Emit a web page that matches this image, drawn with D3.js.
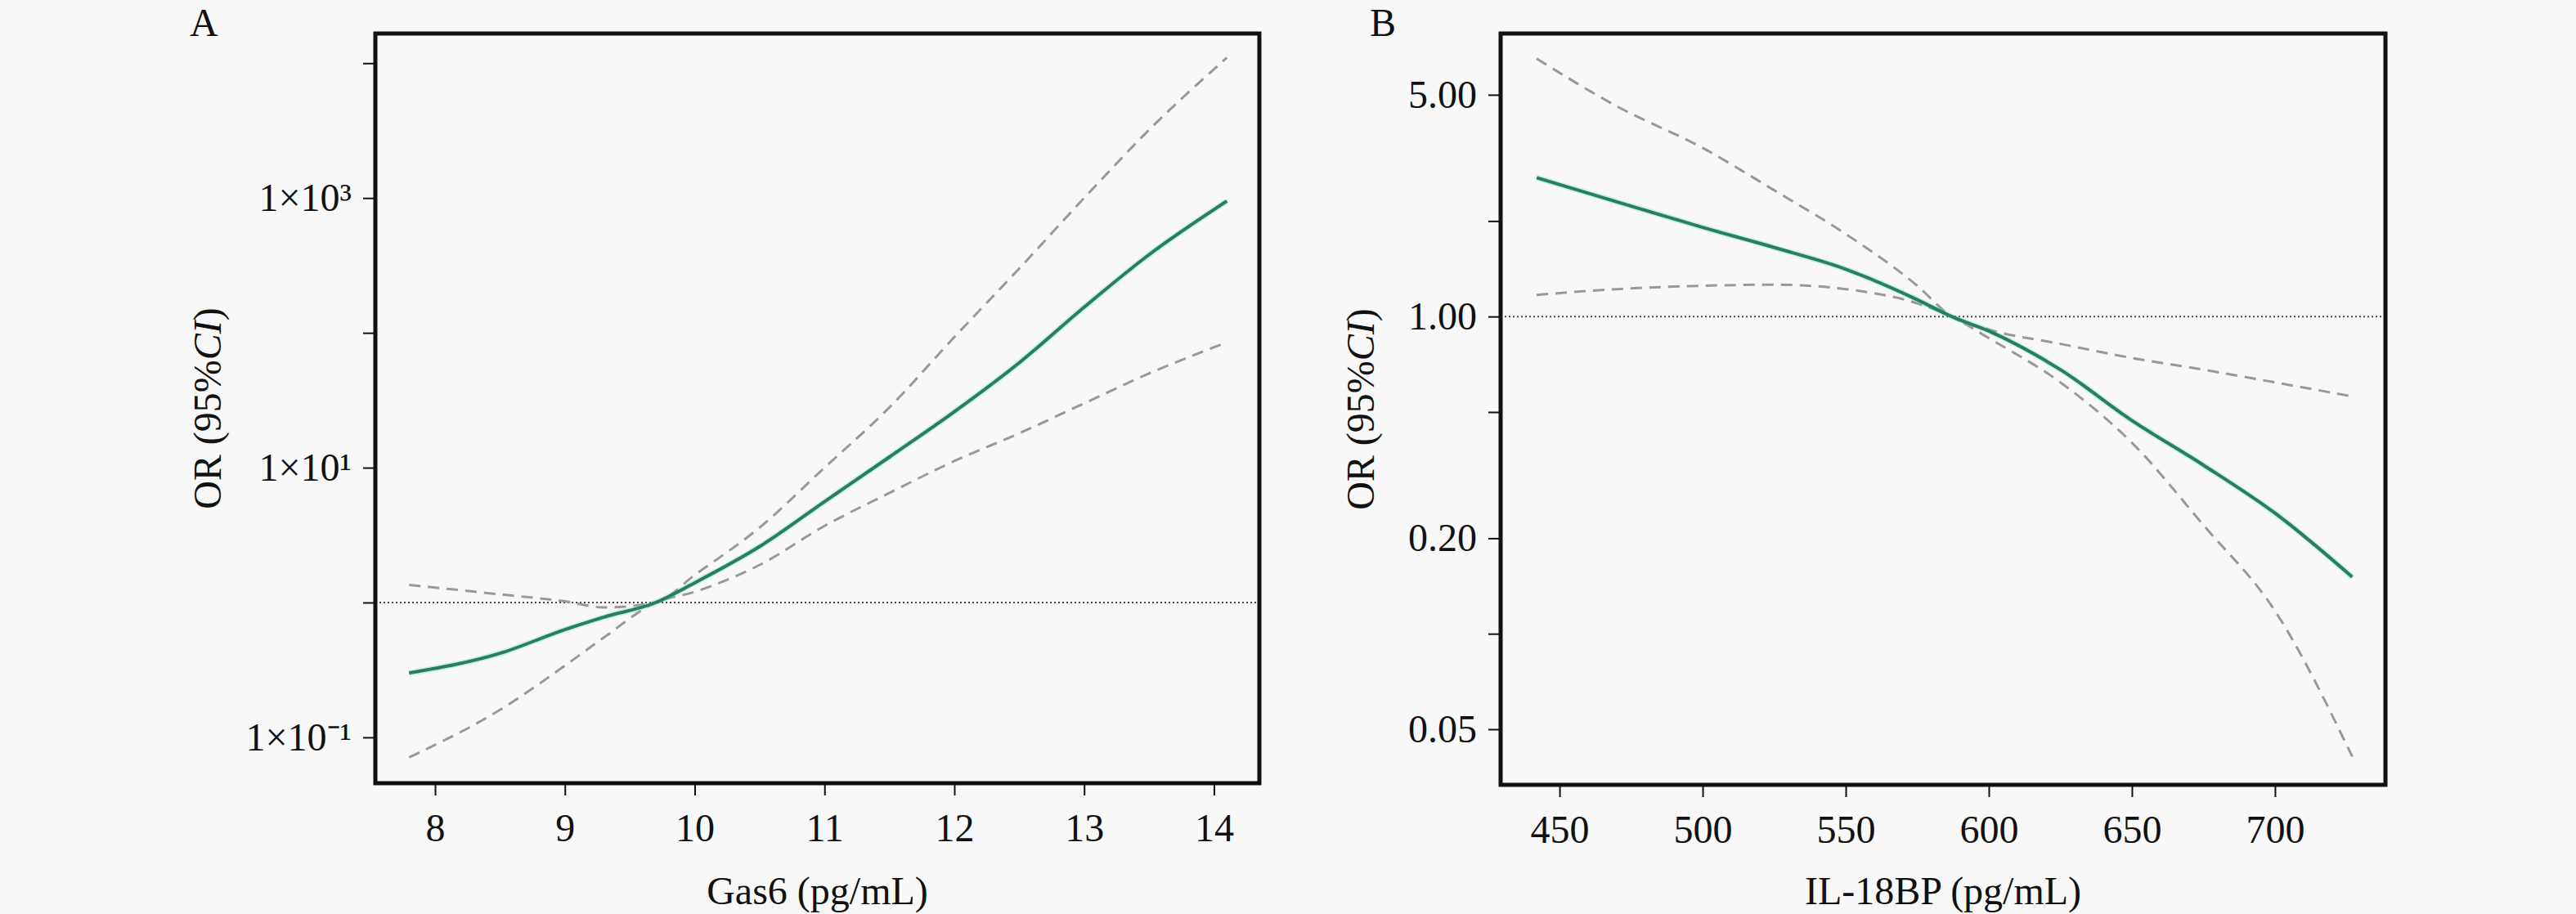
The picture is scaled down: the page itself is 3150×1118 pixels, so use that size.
<!DOCTYPE html>
<html><head><meta charset="utf-8">
<script src="https://cdn.jsdelivr.net/npm/d3@7"></script>
<style>body{margin:0;background:#f8f8f8;} text{font-family:"Liberation Serif","Times New Roman",serif;fill:#111;}</style>
</head><body><svg id="chart" width="3150" height="1118"></svg>
<script>
// panel A: Gas6
var gasX = [7.8, 8.5, 9, 9.3, 9.7, 10, 10.5, 11, 11.5, 12, 12.5, 13, 13.5, 14.1];
var gasOR = [0.30, 0.42, 0.63, 0.78, 1, 1.4, 2.6, 5.6, 12, 26, 60, 155, 380, 950];
var gasLo = [0.071, 0.16, 0.34, 0.55, 1, 1.2, 1.9, 3.7, 6.5, 11.2, 18, 30, 50, 85];
var gasHi = [1.35, 1.15, 1.02, 0.92, 1, 1.6, 3.6, 10, 28, 93, 300, 1000, 3200, 11000];
var gasTicks = [8, 9, 10, 11, 12, 13, 14];
var gasYTicks = [0.1, 10, 1000];
var gasYMinor = [1, 100, 10000];

// panel B: IL-18BP
var ilX = [442, 470, 500, 525, 550, 575, 587, 600, 625, 650, 675, 700, 727];
var ilOR = [2.74, 2.3, 1.91, 1.65, 1.41, 1.13, 1, 0.90, 0.68, 0.47, 0.34, 0.24, 0.151];
var ilLo = [1.17, 1.22, 1.25, 1.26, 1.22, 1.1, 1, 0.855, 0.62, 0.40, 0.22, 0.118, 0.041];
var ilHi = [6.5, 4.6, 3.4, 2.5, 1.82, 1.25, 1, 0.91, 0.82, 0.74, 0.68, 0.62, 0.56];
var ilTicks = [450, 500, 550, 600, 650, 700];
var ilYTicks = [0.05, 0.2, 1, 5];
var ilYMinor = [0.1, 0.5, 2];

var svg = d3.select("#chart");

function sup(n) {
  return String(n).split("").map(c => ({"-":"\u207B","0":"\u2070","1":"\u00B9","2":"\u00B2","3":"\u00B3"})[c]).join("");
}

function panel(o) {
  var x = d3.scaleLinear().domain(o.xd).range([o.left, o.right]);
  var y = d3.scaleLog().domain(o.yd).range([o.bottom, o.top]);
  var g = svg.append("g");

  g.append("g").attr("transform", `translate(0,${o.bottom})`)
    .call(d3.axisBottom(x).tickValues(o.xt).tickSize(15).tickPadding(22).tickFormat(d3.format("d")))
    .call(a => a.select(".domain").remove())
    .call(a => a.selectAll("line").attr("stroke", "#111").attr("stroke-width", 2))
    .call(a => a.selectAll("text").attr("font-size", 48).attr("font-family", "Liberation Serif"));

  var ya = g.append("g").attr("transform", `translate(${o.left},0)`)
    .call(d3.axisLeft(y).tickValues(o.yt.concat(o.ym)).tickSize(15).tickPadding(14).tickFormat(d => o.yt.includes(d) ? o.fmt(d) : ""))
    .call(a => a.select(".domain").remove())
    .call(a => a.selectAll("line").attr("stroke", "#111").attr("stroke-width", 2))
    .call(a => a.selectAll("text").attr("font-size", 48).attr("font-family", "Liberation Serif"));

  g.append("line").attr("x1", o.left).attr("x2", o.right).attr("y1", y(1)).attr("y2", y(1))
    .attr("stroke", "#444").attr("stroke-width", 2).attr("stroke-dasharray", "2,3");

  var line = ys => d3.line().curve(d3.curveMonotoneX).x((d, i) => x(o.xs[i])).y(d => y(d))(ys);
  [o.lo, o.hi].forEach(s => g.append("path").attr("d", line(s)).attr("fill", "none")
    .attr("stroke", "#999").attr("stroke-width", 3).attr("stroke-dasharray", "14,9"));
  g.append("path").attr("d", line(o.or)).attr("fill", "none").attr("stroke", "#5fe0c0").attr("stroke-width", 7).attr("opacity", 0.35);
  g.append("path").attr("d", line(o.or)).attr("fill", "none").attr("stroke", "#2a7d64").attr("stroke-width", 4);

  g.append("rect").attr("x", o.left).attr("y", o.top).attr("width", o.right - o.left).attr("height", o.bottom - o.top)
    .attr("fill", "none").attr("stroke", "#111").attr("stroke-width", 5);

  g.append("text").attr("x", (o.left + o.right) / 2).attr("y", 1106).attr("text-anchor", "middle")
    .attr("font-size", 48).text(o.xlab);
  var yl = g.append("text").attr("transform", `translate(${o.ylx},${(o.top + o.bottom) / 2}) rotate(-90)`)
    .attr("text-anchor", "middle").attr("font-size", 48);
  yl.append("tspan").text("OR (95%");
  yl.append("tspan").attr("font-style", "italic").text("CI");
  yl.append("tspan").text(")");
  g.append("text").attr("x", o.letterX).attr("y", 44).attr("font-size", 48).text(o.letter);
}

panel({xs: gasX, or: gasOR, lo: gasLo, hi: gasHi, xt: gasTicks, yt: gasYTicks, ym: gasYMinor,
  xd: [7.54, 14.35], yd: [Math.pow(10, -1.34), Math.pow(10, 4.22)],
  left: 459, right: 1540, top: 41, bottom: 958, ylx: 270, letter: "A", letterX: 232,
  xlab: "Gas6 (pg/mL)", fmt: d => "1\u00D710" + sup(Math.round(Math.log10(d)))});

panel({xs: ilX, or: ilOR, lo: ilLo, hi: ilHi, xt: ilTicks, yt: ilYTicks, ym: ilYMinor,
  xd: [429.4, 738.6], yd: [0.0334, 7.8],
  left: 1835, right: 2917, top: 41, bottom: 960, ylx: 1680, letter: "B", letterX: 1675,
  xlab: "IL-18BP (pg/mL)", fmt: d3.format(".2f")});
</script></body></html>
